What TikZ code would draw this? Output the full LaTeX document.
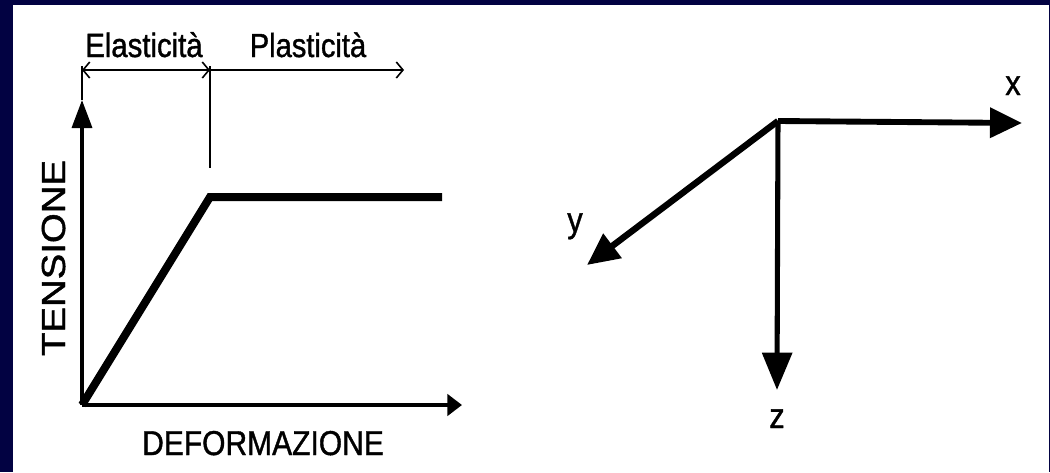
\documentclass[tikz,border=0pt]{standalone}
\usepackage{fontspec}
\setmainfont{Liberation Sans}
\newfontfamily\lblfont[FakeBold=1.2]{Liberation Sans}
\usetikzlibrary{arrows.meta}
\definecolor{navy}{RGB}{2,2,66}
\begin{document}
\begin{tikzpicture}[x=0.75pt,y=-0.75pt,
  lbl/.style={inner sep=0pt,anchor=base,text=black,yscale=1.15},
  axisA/.style={line width=3.6pt,-{Triangle[length=11pt,width=16pt]}},
  axisV/.style={line width=2.6pt,-{Triangle[length=21pt,width=15pt]}},
  thinl/.style={line width=1.1pt},
  dim/.style={line width=1.2pt,{Straight Barb[length=5pt,width=12pt]}-{Straight Barb[length=5pt,width=12pt]}},
  dimr/.style={line width=1.2pt,-{Straight Barb[length=5pt,width=12pt]}},
  curve/.style={line width=6pt,line join=miter},
  ax3/.style={line width=4.4pt,-{Triangle[length=24pt,width=22pt]}}]
\useasboundingbox (0,0) rectangle (1050,472);
\fill[navy] (0,0) rectangle (1050,472);
\fill[white] (13,5) rectangle (1049,472);
% left diagram
\coordinate (O) at (82,405);
\coordinate (Xend) at (462,405);
\coordinate (Yend) at (82,100);
\coordinate (Ltop) at (82,66);
\coordinate (Mtop) at (210,66);
\coordinate (Mbot) at (210,168);
\coordinate (DL) at (82,70);
\coordinate (DM) at (210,70);
\coordinate (DR) at (404,70);
\coordinate (Knee) at (210,197);
\coordinate (Cend) at (442,197);
\draw[axisA] (O) -- (Xend);
\draw[axisV] (O) -- (Yend);
\draw[thinl] (Ltop) -- (Yend);
\draw[thinl] (Mtop) -- (Mbot);
\draw[dim] (DL) -- (DM);
\draw[dimr] (DM) -- (DR);
\draw[curve] (O) -- (Knee) -- (Cend);
\node[lbl,font=\lblfont\fontsize{22pt}{26pt}\selectfont] (el) at (144,57) {Elasticità};
\node[lbl,font=\lblfont\fontsize{21.8pt}{26pt}\selectfont] (pl) at (308,57) {Plasticità};
\node[lbl,font=\lblfont\fontsize{22.5pt}{27pt}\selectfont] (def) at (263,455) {DEFORMAZIONE};
\node[lbl,rotate=90,font=\lblfont\fontsize{25pt}{30pt}\selectfont] (ten) at (65,258) {TENSIONE};
% right diagram
\coordinate (C) at (778,121);
\coordinate (CX) at (1022,123);
\coordinate (CY) at (587,265);
\coordinate (CZ) at (777,390);
\draw[ax3] (C) -- (CX);
\draw[ax3,line width=4.8pt] (C) -- (CY);
\draw[ax3,line width=3.8pt,-{Triangle[length=28pt,width=22pt]}] (C) -- (CZ);
\node[lbl,font=\lblfont\fontsize{23pt}{27pt}\selectfont] (lx) at (1013,95) {x};
\node[lbl,font=\lblfont\fontsize{23pt}{27pt}\selectfont] (ly) at (575,232) {y};
\node[lbl,font=\lblfont\fontsize{23pt}{27pt}\selectfont] (lz) at (777,428) {z};
\end{tikzpicture}
\end{document}
